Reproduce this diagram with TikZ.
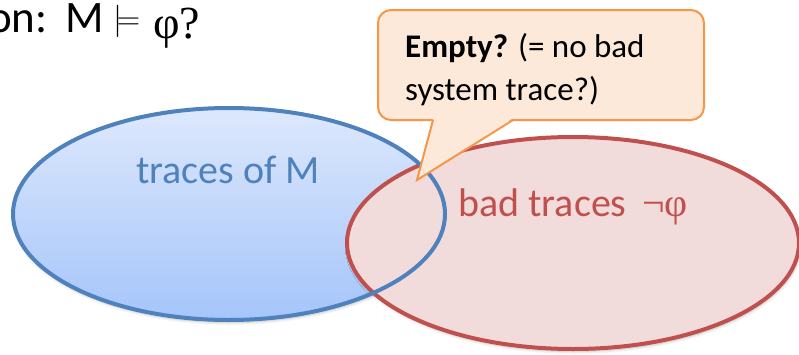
\documentclass[tikz,border=0pt]{standalone}
\usepackage{fontspec}
\usepackage{graphicx}
\setmainfont{Carlito}
\newfontfamily\serifsym{Liberation Serif}
\usetikzlibrary{shadows.blur}

\definecolor{setblue}{HTML}{4F81BD}
\definecolor{bluetop}{HTML}{DDE8FC}
\definecolor{bluebot}{HTML}{A5C5FA}
\definecolor{setred}{HTML}{C0504D}
\definecolor{redfill}{HTML}{F2DCDB}
\definecolor{calloutline}{HTML}{F79646}
\definecolor{calloutfill}{HTML}{FDE9D9}

\tikzset{
  txt/.style={inner sep=0pt, anchor=base west},
  setshadow/.style={blur shadow={shadow xshift=1pt, shadow yshift=-2.5pt,
      shadow blur steps=6, shadow blur radius=3pt, shadow opacity=25}},
  setline/.style={line width=4pt},
}

\begin{document}
\begin{tikzpicture}[x=1pt, y=-1pt]
\useasboundingbox (0,0) rectangle (799,354);

% question line
\node[txt, font=\fontsize{45}{50}\selectfont] (q) at (-12,32) {on:};
\node[txt, font=\fontsize{45}{50}\selectfont] (m) at (65,32) {M};
\node[txt, font=\fontsize{24}{28}\selectfont] (models) at (113,29) {\scalebox{1.3}{$\models$}};
\node[txt, font=\fontsize{46}{50}\selectfont\serifsym] (phi) at (153,38) {φ?};

% set of system traces
\fill[setshadow, top color=bluetop, bottom color=bluebot]
  (229,214) ellipse [x radius=216, y radius=106];

% set of bad traces
\filldraw[setshadow, fill=redfill, draw=setred, setline]
  (573,243) ellipse [x radius=226, y radius=106];

% outline of the trace set, kept above the other set
\draw[setblue, setline] (229,214) ellipse [x radius=216, y radius=106];

\node[txt, font=\fontsize{40}{44}\selectfont, text=setblue] (tm) at (136,183) {traces of M};
\node[txt, font=\fontsize{40}{44}\selectfont, text=setred] (bt) at (458,216)
  {bad traces \,{\serifsym ¬φ}};

% speech bubble
\filldraw[fill=calloutfill, draw=calloutline, line width=2pt, rounded corners=13pt]
  (378,10) rectangle (704,120);
\fill[calloutfill] (433.6,118.6) -- (417,180) -- (512.4,118.6) -- cycle;
\coordinate (tip) at (417,180);
\coordinate (b1) at (433,120);
\coordinate (b2) at (513,120);
\draw[calloutline, line width=2pt, line join=miter] (b1) -- (tip) -- (b2);

\node[txt, font=\fontsize{33}{36}\selectfont] (c1) at (405,57) {\textbf{Empty?} (= no bad};
\node[txt, font=\fontsize{33}{36}\selectfont] (c2) at (405,100) {system trace?)};
\end{tikzpicture}
\end{document}
